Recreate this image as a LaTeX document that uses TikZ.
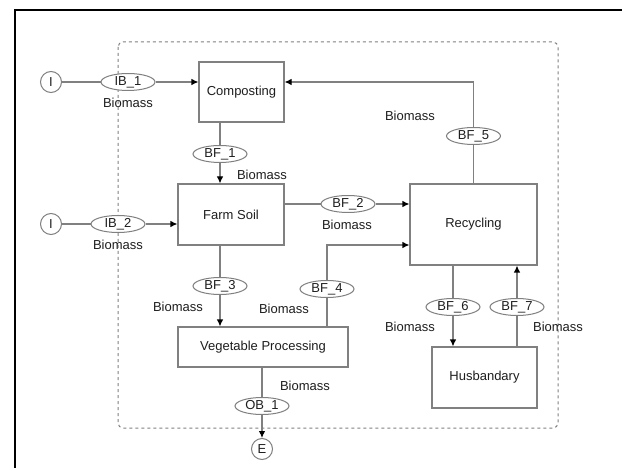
\documentclass[tikz,border=0pt]{standalone}
\usepackage{fontspec}
\setmainfont{Liberation Sans}
\usetikzlibrary{shapes.geometric,arrows.meta}
\definecolor{ln}{HTML}{808080}
\definecolor{tx}{HTML}{1E1E1E}
\tikzset{
  box/.style={draw=ln, line width=1.1pt, rectangle, fill=white, text=tx, font=\fontsize{13}{15}\selectfont},
  flow/.style={draw=ln, ellipse, line width=1pt, fill=white, minimum width=54pt, minimum height=17pt, inner sep=0pt, text=tx, font=\fontsize{13}{15}\selectfont},
  term/.style={draw=ln, circle, line width=1pt, fill=white, minimum size=21pt, inner sep=0pt, text=tx, font=\fontsize{13}{15}\selectfont},
  lbl/.style={text=tx, font=\fontsize{13}{15}\selectfont, inner sep=0pt},
  conn/.style={draw=ln, line width=1.1pt},
  arr/.style={draw=ln, line width=1.1pt, -{Latex[length=7pt,width=6.5pt,color=black]}}
}
\begin{document}
\begin{tikzpicture}[x=1pt,y=-1pt]
\useasboundingbox (0,0) rectangle (622,468);
\fill[white] (0,0) rectangle (622,468);
% outer frame (only left and top visible)
\draw[black, line width=2pt] (15,470) -- (15,10) -- (624,10);
% system boundary
\draw[ln, line width=1pt, dash pattern=on 3pt off 3pt, rounded corners=5pt] (118,42) rectangle (558,428);

% processes
\node[box, minimum width=85pt, minimum height=60pt] (comp) at (241.5,92) {Composting};
\node[box, minimum width=106pt, minimum height=61pt] (farm) at (231,214.5) {Farm Soil};
\node[box, minimum width=127pt, minimum height=81pt] (rec) at (473.5,224.5) {Recycling};
\node[box, minimum width=170pt, minimum height=40pt] (veg) at (263,347) {Vegetable Processing};
\node[box, minimum width=105pt, minimum height=61pt] (hus) at (484.5,377.5) {Husbandary};

% terminals
\node[term] (i1) at (51,82) {I};
\node[term] (i2) at (51,224) {I};
\node[term] (e) at (262,449) {E};

% flows
\node[flow] (ib1) at (128,82) {IB\_1};
\node[flow] (ib2) at (118,224) {IB\_2};
\node[flow] (bf1) at (220,154) {BF\_1};
\node[flow] (bf2) at (348,204) {BF\_2};
\node[flow] (bf3) at (220,286) {BF\_3};
\node[flow] (bf4) at (327,289) {BF\_4};
\node[flow] (bf5) at (473.5,136) {BF\_5};
\node[flow] (bf6) at (453,307) {BF\_6};
\node[flow] (bf7) at (517,307) {BF\_7};
\node[flow] (ob1) at (262,406) {OB\_1};

% labels
\node[lbl] (l1) at (128,103) {Biomass};
\node[lbl] (l2) at (118,245) {Biomass};
\node[lbl] (l3) at (262,175) {Biomass};
\node[lbl] (l4) at (347,225) {Biomass};
\node[lbl] (l5) at (410,116) {Biomass};
\node[lbl] (l6) at (178,307) {Biomass};
\node[lbl] (l7) at (284,309) {Biomass};
\node[lbl] (l8) at (305,386) {Biomass};
\node[lbl] (l9) at (410,327) {Biomass};
\node[lbl] (l10) at (558,327) {Biomass};

% connectors
\draw[conn] (i1) -- (ib1);
\draw[arr] (ib1) -- (comp.west |- ib1);
\draw[conn] (i2) -- (ib2);
\draw[arr] (ib2) -- (farm.west |- ib2);
\draw[conn] (bf1 |- comp.south) -- (bf1);
\draw[arr] (bf1) -- (bf1 |- farm.north);
\draw[conn] (farm.east |- bf2) -- (bf2);
\draw[arr] (bf2) -- (rec.west |- bf2);
\draw[conn] (bf3 |- farm.south) -- (bf3);
\draw[arr] (bf3) -- (bf3 |- veg.north);
\draw[conn] (bf4 |- veg.north) -- (bf4);
\draw[arr] (bf4) |- ([yshift=-20.5pt]rec.west);
\draw[conn] (rec.north) -- (bf5);
\draw[arr] (bf5) |- (comp.east |- ib1);
\draw[conn] (bf6 |- rec.south) -- (bf6);
\draw[arr] (bf6) -- (bf6 |- hus.north);
\draw[conn] (bf7 |- hus.north) -- (bf7);
\draw[arr] (bf7) -- (bf7 |- rec.south);
\draw[conn] (ob1 |- veg.south) -- (ob1);
\draw[arr] (ob1) -- (e);
\end{tikzpicture}
\end{document}
